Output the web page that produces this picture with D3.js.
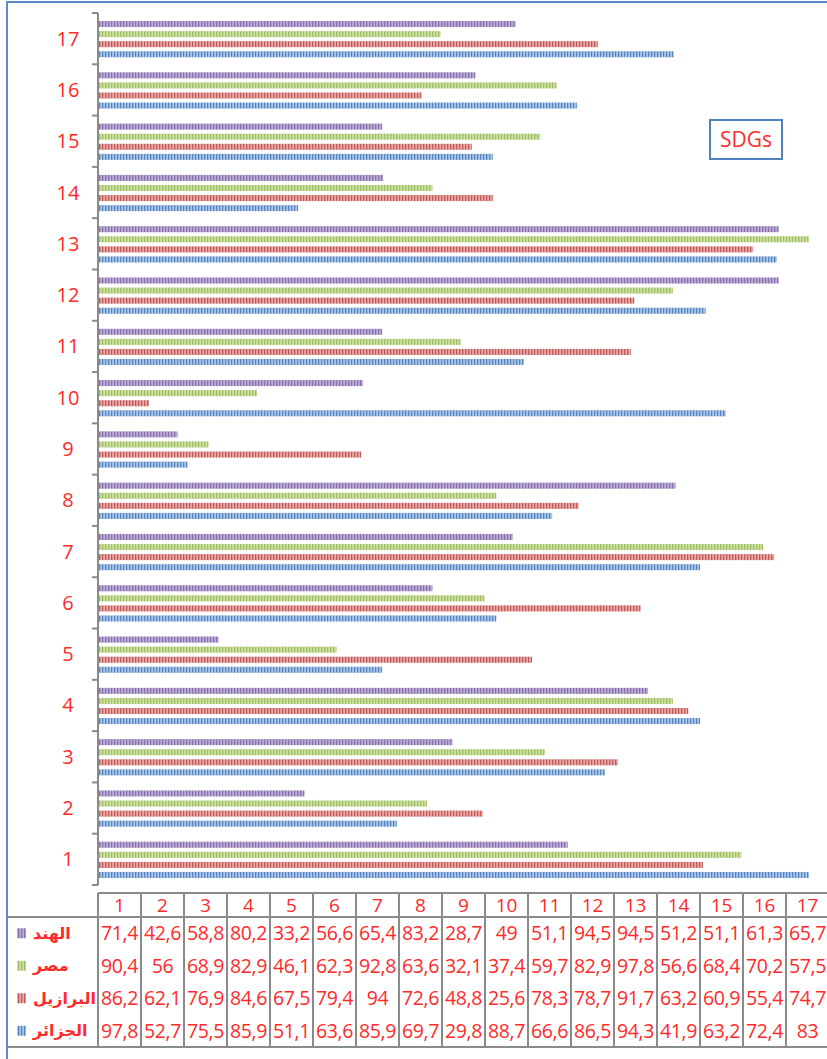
<!DOCTYPE html>
<html>
<head>
<meta charset="utf-8">
<script src="https://cdn.jsdelivr.net/npm/d3@7"></script>
<style>
  html, body { margin: 0; padding: 0; background: #fff; }
  svg { display: block; }
</style>
</head>
<body>
<svg id="chart" width="827" height="1059"></svg>
<script>
// SDG scores (1–17) for four countries
const goals = ["1","2","3","4","5","6","7","8","9","10","11","12","13","14","15","16","17"];
const countries = ["الهند", "مصر", "البرازيل", "الجزائر"];
const india   = [71.4, 42.6, 58.8, 80.2, 33.2, 56.6, 65.4, 83.2, 28.7, 49, 51.1, 94.5, 94.5, 51.2, 51.1, 61.3, 65.7];
const egypt   = [90.4, 56, 68.9, 82.9, 46.1, 62.3, 92.8, 63.6, 32.1, 37.4, 59.7, 82.9, 97.8, 56.6, 68.4, 70.2, 57.5];
const brazil  = [86.2, 62.1, 76.9, 84.6, 67.5, 79.4, 94, 72.6, 48.8, 25.6, 78.3, 78.7, 91.7, 63.2, 60.9, 55.4, 74.7];
const algeria = [97.8, 52.7, 75.5, 85.9, 51.1, 63.6, 85.9, 69.7, 29.8, 88.7, 66.6, 86.5, 94.3, 41.9, 63.2, 72.4, 83];
const seriesValues = [india, egypt, brazil, algeria];
const axisDomain = [20, 100];

const colors = [
  { base: "#bcaed6", stripe: "#8a70ad" },
  { base: "#cde0a8", stripe: "#9fbf5e" },
  { base: "#e6aaa8", stripe: "#c45a57" },
  { base: "#adc7e8", stripe: "#5686c2" }
];
const red = "#ff2a2a";
const gridGray = "#8a8a8a";

const svg = d3.select("#chart");
const defs = svg.append("defs");
colors.forEach((c, i) => {
  const p = defs.append("pattern")
    .attr("id", "stripe" + i)
    .attr("patternUnits", "userSpaceOnUse")
    .attr("width", 3).attr("height", 6);
  p.append("rect").attr("width", 3).attr("height", 6).attr("fill", c.base);
  p.append("rect").attr("x", 0).attr("width", 1.3).attr("height", 6).attr("fill", c.stripe);
});

// outer frame
svg.append("rect")
  .attr("x", 7).attr("y", 2).attr("width", 840).attr("height", 1080)
  .attr("fill", "none").attr("stroke", "#5d8ccc").attr("stroke-width", 2);

// scales
const plotLeft = 98, plotRight = 829, plotTop = 13, plotBottom = 885;
const x = d3.scaleLinear().domain(axisDomain).range([plotLeft, plotRight]);
const y = d3.scaleBand().domain(goals.slice().reverse()).range([plotTop, plotBottom]).padding(0);
const ySub = d3.scaleBand().domain(d3.range(4)).range([6, y.bandwidth() - 5]).paddingInner(0.4).paddingOuter(0.2);

// bars
const g = svg.append("g");
goals.forEach((goal, gi) => {
  seriesValues.forEach((vals, si) => {
    g.append("rect")
      .attr("x", x(axisDomain[0]))
      .attr("y", y(goal) + ySub(si))
      .attr("width", x(vals[gi]) - x(axisDomain[0]))
      .attr("height", ySub.bandwidth())
      .attr("fill", "url(#stripe" + si + ")");
  });
});

// category axis: line, ticks at band edges, red labels
const axisG = svg.append("g");
axisG.append("line")
  .attr("x1", plotLeft).attr("x2", plotLeft)
  .attr("y1", plotTop).attr("y2", plotBottom)
  .attr("stroke", gridGray).attr("stroke-width", 2);
const edges = goals.map(gl => y(gl)).concat([plotBottom]);
axisG.selectAll("line.tick").data(edges).enter().append("line")
  .attr("class", "tick")
  .attr("x1", plotLeft - 6).attr("x2", plotLeft)
  .attr("y1", d => d).attr("y2", d => d)
  .attr("stroke", gridGray).attr("stroke-width", 2);
axisG.selectAll("text").data(goals).enter().append("text")
  .attr("x", 68)
  .attr("y", d => y(d) + y.bandwidth() / 2)
  .attr("dy", "0.35em")
  .attr("text-anchor", "middle")
  .attr("font-family", "Open Sans, sans-serif")
  .attr("font-size", 20)
  .attr("fill", red)
  .text(d => d);

// SDGs label box
svg.append("rect")
  .attr("x", 710).attr("y", 120).attr("width", 72).attr("height", 39)
  .attr("fill", "#fff").attr("stroke", "#4f81bd").attr("stroke-width", 2);
svg.append("text")
  .attr("x", 746).attr("y", 140).attr("dy", "0.35em")
  .attr("text-anchor", "middle")
  .attr("font-family", "Open Sans, sans-serif")
  .attr("font-size", 21)
  .attr("fill", red)
  .text("SDGs");

// data table
const table = svg.append("g");
const headTop = 893, rowTop = 917, tableBottom = 1047;
const rowH = (tableBottom - rowTop) / countries.length;
const colX = d3.scaleBand().domain(goals).range([plotLeft, plotRight]);

// grid lines
table.append("line").attr("x1", plotLeft).attr("x2", plotRight)
  .attr("y1", headTop).attr("y2", headTop)
  .attr("stroke", gridGray).attr("stroke-width", 2);
table.append("line").attr("x1", 8).attr("x2", plotRight)
  .attr("y1", rowTop).attr("y2", rowTop)
  .attr("stroke", gridGray).attr("stroke-width", 2);
table.append("line").attr("x1", 8).attr("x2", plotRight)
  .attr("y1", tableBottom).attr("y2", tableBottom)
  .attr("stroke", gridGray).attr("stroke-width", 2);
const vEdges = goals.map(gl => colX(gl)).concat([plotRight]);
table.selectAll("line.v").data(vEdges).enter().append("line")
  .attr("class", "v")
  .attr("x1", d => d).attr("x2", d => d)
  .attr("y1", headTop).attr("y2", tableBottom)
  .attr("stroke", gridGray).attr("stroke-width", 2);

// header numbers
table.selectAll("text.head").data(goals).enter().append("text")
  .attr("class", "head")
  .attr("x", d => colX(d) + colX.bandwidth() / 2)
  .attr("y", (headTop + rowTop) / 2)
  .attr("dy", "0.35em")
  .attr("text-anchor", "middle")
  .attr("font-family", "Open Sans, sans-serif")
  .attr("font-size", 19)
  .attr("fill", red)
  .text(d => d);

// value rows with legend keys
const fmt = v => String(v).replace(".", ",");
countries.forEach((name, si) => {
  const cy = rowTop + rowH * si + rowH / 2;
  table.append("rect")
    .attr("x", 17).attr("y", cy - 5).attr("width", 9).attr("height", 10)
    .attr("fill", "url(#stripe" + si + ")");
  table.append("text")
    .attr("x", 33).attr("y", cy).attr("dy", "0.35em")
    .attr("text-anchor", "start")
    .attr("direction", "ltr")
    .attr("font-family", "DejaVu Sans, sans-serif")
    .attr("font-weight", "bold")
    .attr("font-size", 16)
    .attr("fill", red)
    .text(name);
  table.selectAll("text.v" + si).data(seriesValues[si]).enter().append("text")
    .attr("class", "v" + si)
    .attr("x", (d, i) => colX(goals[i]) + colX.bandwidth() / 2)
    .attr("y", cy).attr("dy", "0.35em")
    .attr("text-anchor", "middle")
    .attr("font-family", "Open Sans, sans-serif")
    .attr("font-size", 19.5)
    .attr("letter-spacing", -0.4)
    .attr("fill", red)
    .text(d => fmt(d));
});
</script>
</body>
</html>
